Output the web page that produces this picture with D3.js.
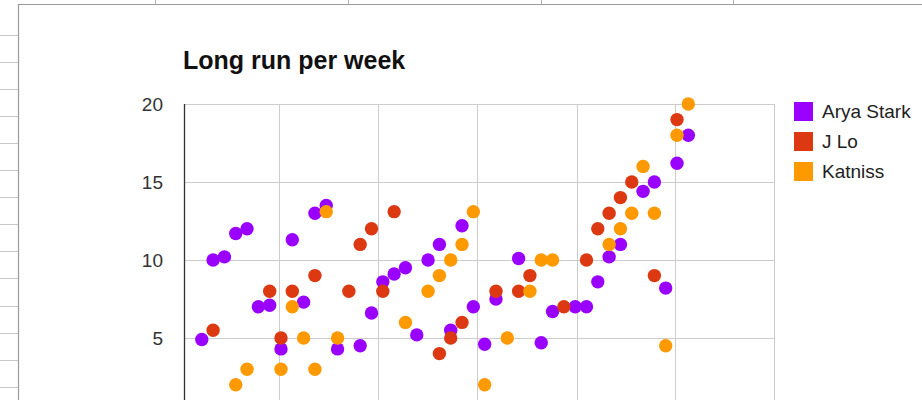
<!DOCTYPE html>
<html>
<head>
<meta charset="utf-8">
<script src="https://cdn.jsdelivr.net/npm/d3@7"></script>
<style>
  html, body { margin: 0; padding: 0; background: #fff; }
  svg { display: block; font-family: "Liberation Sans", Arial, Helvetica, sans-serif; }
</style>
</head>
<body>
<svg id="chart" width="922" height="400"></svg>
<script>
// Saturday long runs, one entry per week (miles); null = no run logged
const weeks = [
  "2013-01-12","2013-01-19","2013-01-26","2013-02-02","2013-02-09","2013-02-16","2013-02-23",
  "2013-03-02","2013-03-09","2013-03-16","2013-03-23","2013-03-30","2013-04-06","2013-04-13",
  "2013-04-20","2013-04-27","2013-05-04","2013-05-11","2013-05-18","2013-05-25","2013-06-01",
  "2013-06-08","2013-06-15","2013-06-22","2013-06-29","2013-07-06","2013-07-13","2013-07-20",
  "2013-07-27","2013-08-03","2013-08-10","2013-08-17","2013-08-24","2013-08-31","2013-09-07",
  "2013-09-14","2013-09-21","2013-09-28","2013-10-05","2013-10-12","2013-10-19","2013-10-26",
  "2013-11-02","2013-11-09"
];

const arya = [
  4.9, 10, 10.2, 11.7, 12, 7, 7.1,
  4.3, 11.3, 7.3, 13, 13.5, 4.3, null,
  4.5, 6.6, 8.6, 9.1, 9.5, 5.2, 10,
  11, 5.5, 12.2, 7, 4.6, 7.5, null,
  10.1, null, 4.7, 6.7, null, 7, 7,
  8.6, 10.2, 11, null, 14.4, 15, 8.2,
  16.2, 18
];

const jlo = [
  null, 5.5, null, null, null, null, 8,
  5, 8, null, 9, null, null, 8,
  11, 12, 8, 13.1, null, null, null,
  4, 5, 6, null, null, 8, null,
  8, 9, null, null, 7, null, 10,
  12, 13, 14, 15, null, 9, null,
  19, null
];

const katniss = [
  null, null, null, 2, 3, null, null,
  3, 7, 5, 3, 13.1, 5, null,
  null, null, null, null, 6, null, 8,
  9, 10, 11, 13.1, 2, null, 5,
  null, 8, 10, 10, null, null, null,
  null, 11, 12, 13, 16, 13, 4.5,
  18, 20
];

const seriesNames = ["Arya Stark", "J Lo", "Katniss"];
const seriesColors = ["#9900ff", "#dc3912", "#ff9900"];
const yTicks = [0, 5, 10, 15, 20];
const chartTitle = "Long run per week";

const series = [arya, jlo, katniss].map((vals, i) => ({
  name: seriesNames[i],
  color: seriesColors[i],
  points: vals.map((v, j) => ({ date: new Date(weeks[j] + "T00:00:00"), value: v }))
                .filter(p => p.value !== null)
}));

const svg = d3.select("#chart");

// ---- spreadsheet backdrop behind the embedded chart ----
const sheet = svg.append("g").attr("class", "sheet");
const rowLines = d3.range(35, 400, 27.05);
sheet.selectAll("line.row").data(rowLines).join("line")
  .attr("x1", 0).attr("x2", 18).attr("y1", d => Math.round(d) + 0.5).attr("y2", d => Math.round(d) + 0.5)
  .attr("stroke", "#c8c8c8");
sheet.selectAll("line.col").data([155, 348, 541, 733]).join("line")
  .attr("x1", d => d + 0.5).attr("x2", d => d + 0.5).attr("y1", 0).attr("y2", 4)
  .attr("stroke", "#b5b5b5");
// chart frame edges
sheet.append("line").attr("x1", 18).attr("x2", 922).attr("y1", 4.5).attr("y2", 4.5)
  .attr("stroke", "#9a9a9a").attr("stroke-width", 1.2);
sheet.append("line").attr("x1", 18.5).attr("x2", 18.5).attr("y1", 4).attr("y2", 400)
  .attr("stroke", "#9a9a9a").attr("stroke-width", 1.2);

// ---- plot area ----
const plot = { left: 184, right: 774, top: 104, bottom: 416 };

const x = d3.scaleTime()
  .domain([new Date("2013-01-01T00:00:00"), new Date("2014-01-01T00:00:00")])
  .range([plot.left, plot.right]);

const y = d3.scaleLinear()
  .domain([0, 20])
  .range([plot.bottom, plot.top]);

const grid = svg.append("g").attr("class", "grid");

// vertical gridlines every two months
const xTicks = x.ticks(d3.timeMonth.every(2)).filter(d => +d > +x.domain()[0]);
grid.selectAll("line.v").data(xTicks).join("line")
  .attr("x1", d => Math.round(x(d)) + 0.5).attr("x2", d => Math.round(x(d)) + 0.5)
  .attr("y1", plot.top).attr("y2", plot.bottom)
  .attr("stroke", "#cccccc");

// horizontal gridlines
grid.selectAll("line.h").data(yTicks.filter(t => t > 0)).join("line")
  .attr("x1", plot.left).attr("x2", plot.right)
  .attr("y1", d => Math.round(y(d)) + 0.5).attr("y2", d => Math.round(y(d)) + 0.5)
  .attr("stroke", "#cccccc");

// y axis labels (the zero label falls below the visible frame)
const yAxis = d3.axisLeft(y).tickValues(yTicks.filter(t => y(t) < 400)).tickSize(0).tickPadding(21);
const yg = svg.append("g").attr("transform", `translate(${plot.left},0)`).call(yAxis);
yg.select(".domain").remove();
yg.selectAll("text")
  .attr("font-family", "'Liberation Sans', Arial, sans-serif")
  .attr("font-size", 19)
  .attr("fill", "#333");

// left axis baseline
svg.append("line")
  .attr("x1", plot.left + 0.5).attr("x2", plot.left + 0.5)
  .attr("y1", plot.top).attr("y2", plot.bottom)
  .attr("stroke", "#333").attr("stroke-width", 1.3);

// points, series drawn in order so later ones sit on top
const marks = svg.append("g").attr("class", "marks");
series.forEach(s => {
  marks.append("g").selectAll("circle").data(s.points).join("circle")
    .attr("cx", d => x(d.date))
    .attr("cy", d => y(d.value))
    .attr("r", 6.7)
    .attr("fill", s.color);
});

// title
svg.append("text")
  .attr("x", 183).attr("y", 69)
  .attr("font-size", 25).attr("font-weight", "bold")
  .attr("fill", "#111")
  .text(chartTitle);

// legend
const legend = svg.append("g").attr("transform", "translate(794,102)");
const li = legend.selectAll("g").data(series).join("g")
  .attr("transform", (d, i) => `translate(0,${i * 30})`);
li.append("rect").attr("width", 19).attr("height", 19).attr("fill", d => d.color);
li.append("text").attr("x", 28).attr("y", 16)
  .attr("font-size", 19).attr("fill", "#222")
  .text(d => d.name);
</script>
</body>
</html>
